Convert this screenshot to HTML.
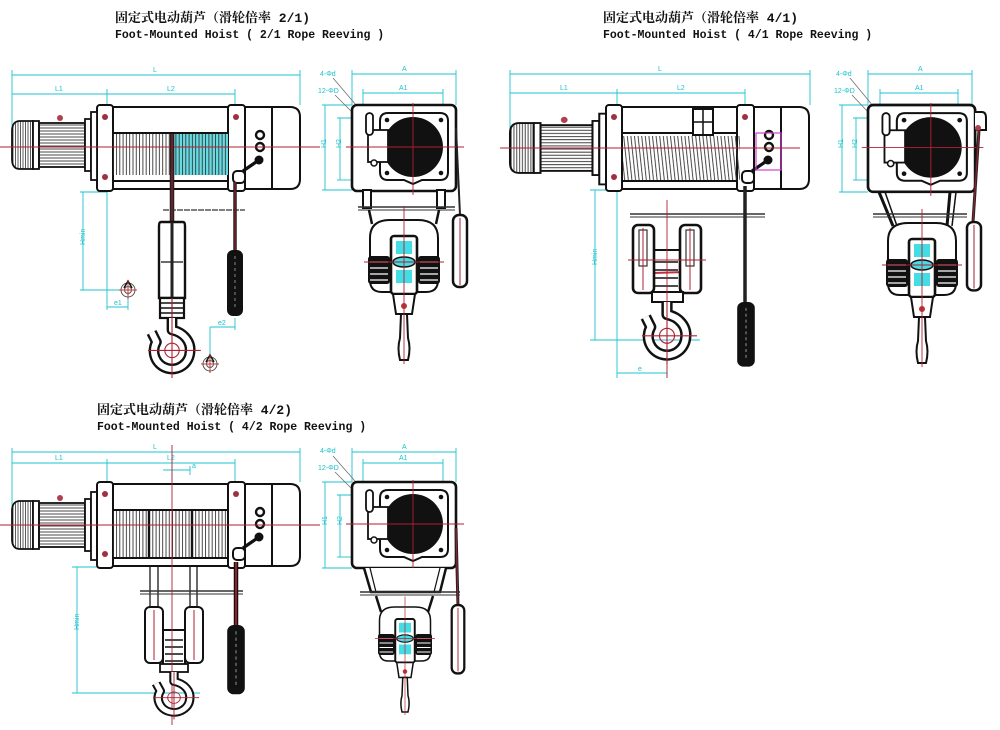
<!DOCTYPE html>
<html><head><meta charset="utf-8"><style>
html,body{margin:0;padding:0;background:#fff;}
body{width:1000px;height:730px;overflow:hidden;position:relative;}
svg{position:absolute;left:0;top:0;}
.t{font-family:"Liberation Mono","Noto Serif CJK SC",monospace;font-weight:bold;fill:#111;}
.d{font-family:"Liberation Sans",sans-serif;font-size:7px;fill:#1cc3cc;}
</style></head><body>
<svg width="1000" height="730" viewBox="0 0 1000 730" xmlns="http://www.w3.org/2000/svg">
<defs>
 <pattern id="vh" width="3.3" height="10" patternUnits="userSpaceOnUse"><line x1="1" y1="0" x2="1" y2="10" stroke="#333" stroke-width="0.9"/></pattern>
 <pattern id="dh" width="3.6" height="10" patternUnits="userSpaceOnUse" patternTransform="skewX(6)"><line x1="1" y1="0" x2="1" y2="10" stroke="#333" stroke-width="0.9"/></pattern>
 <pattern id="hh" width="10" height="3" patternUnits="userSpaceOnUse"><line x1="0" y1="1" x2="10" y2="1" stroke="#333" stroke-width="0.9"/></pattern>
 <pattern id="fin" width="2.5" height="10" patternUnits="userSpaceOnUse"><line x1="1" y1="0" x2="1" y2="10" stroke="#333" stroke-width="0.8"/></pattern>

 <g id="motor" stroke="#111" stroke-width="1.8">
  <path d="M8 -24 H21 V24 H8 Q0 24 0 14 V-14 Q0 -24 8 -24 Z" fill="url(#fin)"/>
  <rect x="21" y="-24" width="6" height="48" fill="#fff"/>
  <rect x="27" y="-22" width="46" height="44" fill="url(#hh)"/>
  <rect x="73" y="-26" width="6" height="52" fill="#fff"/>
  <rect x="79" y="-33" width="6" height="68" fill="#fff"/>
  <circle cx="48" cy="-27" r="3" fill="#b04050" stroke="none"/>
 </g>

 <g id="frame" stroke="#111" stroke-width="2">
  <rect x="16" y="2" width="115" height="82" fill="#fff"/>
  <path d="M148 2 H193 Q203 2 203 12 V74 Q203 84 193 84 H148 Z" fill="#fff"/>
  <line x1="175" y1="2" x2="175" y2="84"/>
  <rect x="0" y="0" width="16" height="86" rx="3" fill="#fff"/>
  <rect x="131" y="0" width="17" height="86" rx="3" fill="#fff"/>
  <line x1="16" y1="28" x2="131" y2="28"/>
  <line x1="16" y1="76" x2="131" y2="76"/>
  <circle cx="8" cy="12" r="3" fill="#a03040" stroke="none"/>
  <circle cx="8" cy="72" r="3" fill="#a03040" stroke="none"/>
  <circle cx="139" cy="12" r="3" fill="#a03040" stroke="none"/>
  <circle cx="163" cy="30" r="4" fill="none" stroke-width="2.4"/>
  <circle cx="163" cy="42" r="4" fill="none" stroke-width="2.4"/>
  <line x1="162" y1="55" x2="146" y2="66" stroke-width="3.2"/>
  <circle cx="162" cy="55" r="3.5" fill="#111"/>
  <rect x="136" y="66" width="12" height="12" rx="4" fill="#fff" stroke-width="2"/>
 </g>

 <g id="sbox">
  <rect x="0" y="0" width="104" height="86" rx="5" fill="#fff" stroke="#111" stroke-width="2.6"/>
  <path d="M36 8 H88 Q96 8 96 16 V67 Q96 75 88 75 H70 L61 79 L52 75 H36 Q28 75 28 67 V16 Q28 8 36 8 Z" fill="#fff" stroke="#111" stroke-width="2"/>
  <circle cx="61" cy="42" r="30" fill="#111"/>
  <circle cx="35" cy="15" r="2.3" fill="#111"/><circle cx="89" cy="15" r="2.3" fill="#111"/>
  <circle cx="35" cy="68" r="2.3" fill="#111"/><circle cx="89" cy="68" r="2.3" fill="#111"/>
  <rect x="16" y="25" width="20" height="32" fill="#fff" stroke="#111" stroke-width="1.8"/>
  <rect x="14" y="8" width="7" height="22" rx="3.5" fill="#fff" stroke="#111" stroke-width="1.8"/>
  <circle cx="22" cy="58" r="3" fill="#fff" stroke="#111" stroke-width="1.5"/>
  <line x1="-6" y1="42" x2="112" y2="42" stroke="#b02030" stroke-width="0.9"/>
  <line x1="61" y1="-2" x2="61" y2="90" stroke="#b02030" stroke-width="0.9"/>
 </g>

 <g id="sblock">
  <path d="M-34 18 Q-34 0 -14 0 H14 Q34 0 34 18 V60 Q34 72 22 72 H-22 Q-34 72 -34 60 Z" fill="#fff" stroke="#111" stroke-width="2"/>
  <rect x="-36" y="36" width="22" height="28" rx="3" fill="#111"/>
  <rect x="14" y="36" width="22" height="28" rx="3" fill="#111"/>
  <g stroke="#fff" stroke-width="1.3">
   <line x1="-34" y1="42" x2="-16" y2="42"/><line x1="-34" y1="48" x2="-16" y2="48"/><line x1="-34" y1="54" x2="-16" y2="54"/><line x1="-34" y1="60" x2="-16" y2="60"/>
   <line x1="16" y1="42" x2="34" y2="42"/><line x1="16" y1="48" x2="34" y2="48"/><line x1="16" y1="54" x2="34" y2="54"/><line x1="16" y1="60" x2="34" y2="60"/>
  </g>
  <rect x="-13" y="16" width="26" height="58" rx="3" fill="#fff" stroke="#111" stroke-width="2.6"/>
  <rect x="-8" y="21" width="16" height="13" fill="#44dde6"/>
  <rect x="-8" y="50" width="16" height="13" fill="#44dde6"/>
  <ellipse cx="0" cy="42" rx="11" ry="5" fill="#44dde6" stroke="#111" stroke-width="1.5"/>
  <path d="M-11 74 H11 L8 94 H-8 Z" fill="#fff" stroke="#111" stroke-width="2"/>
  <circle cx="0" cy="86" r="3" fill="#b33"/>
  <path d="M-3 94 H3 L4 118 Q7 128 4 140 H-4 Q-7 128 -4 118 Z" fill="#fff" stroke="#111" stroke-width="2"/>
  <line x1="0" y1="-14" x2="0" y2="144" stroke="#b02030" stroke-width="0.9"/>
  <line x1="-40" y1="42" x2="40" y2="42" stroke="#b02030" stroke-width="0.9"/>
 </g>

 <g id="hook">
  <path d="M0 0 V10 C10 12 16 20 15 28 A15 15 0 1 1 -13 20 L-17 12" fill="none" stroke="#111" stroke-width="9" stroke-linejoin="round"/>
  <path d="M0 0 V10 C10 12 16 20 15 28 A15 15 0 1 1 -13 20 L-17 12" fill="none" stroke="#fff" stroke-width="5" stroke-linejoin="round"/>
  <circle cx="0" cy="27" r="6" fill="none" stroke="#b02030" stroke-width="0.9"/>
  <line x1="0" y1="0" x2="0" y2="50" stroke="#b02030" stroke-width="0.9"/>
  <line x1="-20" y1="27" x2="24" y2="27" stroke="#b02030" stroke-width="0.9"/>
 </g>

 <g id="pendB">
  <rect x="-8" y="0" width="16" height="66" rx="6" fill="#111"/>
  <line x1="0" y1="6" x2="0" y2="60" stroke="#9aa" stroke-width="0.8" stroke-dasharray="3 3"/>
 </g>
 <g id="pendW">
  <rect x="-7" y="0" width="14" height="72" rx="6" fill="#fff" stroke="#111" stroke-width="2.5"/>
  <line x1="0" y1="3" x2="0" y2="70" stroke="#a02030" stroke-width="1"/>
 </g>

 <g id="sym" fill="none" stroke="#555" stroke-width="1">
  <circle cx="0" cy="0" r="7"/><circle cx="0" cy="0" r="3.5"/>
  <path d="M-4 -2 L0 -9 L4 -2" stroke="#111" stroke-width="1.5"/>
  <line x1="-9" y1="0" x2="9" y2="0" stroke="#c33"/><line x1="0" y1="-9" x2="0" y2="9" stroke="#c33"/>
 </g>
</defs>

<!-- TITLES -->
<text class="t" x="115" y="22" font-size="13">固定式电动葫芦（滑轮倍率 2/1)</text>
<text class="t" x="115" y="38" font-size="11.5">Foot-Mounted Hoist ( 2/1 Rope Reeving )</text>
<text class="t" x="603" y="22" font-size="13">固定式电动葫芦（滑轮倍率 4/1)</text>
<text class="t" x="603" y="38" font-size="11.5">Foot-Mounted Hoist ( 4/1 Rope Reeving )</text>
<text class="t" x="97" y="414" font-size="13">固定式电动葫芦（滑轮倍率 4/2)</text>
<text class="t" x="97" y="430" font-size="11.5">Foot-Mounted Hoist ( 4/2 Rope Reeving )</text>

<!-- ================= VIEW 1 FRONT ================= -->
<g stroke="#1cc3cc" stroke-width="0.9" fill="none">
 <line x1="12" y1="75" x2="300" y2="75"/><line x1="12" y1="70" x2="12" y2="145"/><line x1="300" y1="70" x2="300" y2="105"/>
 <line x1="12" y1="94" x2="235" y2="94"/><line x1="107" y1="89" x2="107" y2="120"/><line x1="235" y1="89" x2="235" y2="120"/>
 <line x1="83" y1="192" x2="83" y2="290"/><line x1="80" y1="192" x2="107" y2="192"/><line x1="80" y1="290" x2="125" y2="290"/>
 <line x1="107" y1="190" x2="107" y2="310"/><line x1="107" y1="307" x2="128" y2="307"/><line x1="128" y1="298" x2="128" y2="310"/>
 <line x1="210" y1="327" x2="210" y2="358"/><line x1="210" y1="327" x2="235" y2="327"/><line x1="235" y1="318" x2="235" y2="330"/>
</g>
<text class="d" x="153" y="72">L</text><text class="d" x="55" y="91">L1</text><text class="d" x="167" y="91">L2</text>
<text class="d" x="80" y="250" transform="rotate(-90 80 245)">Hmin</text>
<text class="d" x="114" y="305">e1</text><text class="d" x="218" y="325">e2</text>
<use href="#sym" x="128" y="290"/><use href="#sym" x="210" y="364"/>

<use href="#frame" x="97" y="105"/>
<rect x="170" y="134" width="58" height="41" fill="#66dde4"/>
<rect x="113" y="134" width="115" height="41" fill="url(#vh)"/>
<g transform="translate(12,145)"><use href="#motor"/></g>
<line x1="0" y1="147" x2="320" y2="147" stroke="#b02030" stroke-width="0.9"/>
<!-- rope -->
<line x1="172" y1="134" x2="172" y2="262" stroke="#222" stroke-width="4.5"/>
<line x1="172" y1="134" x2="172" y2="262" stroke="#a02030" stroke-width="1.2"/>
<line x1="163" y1="210" x2="245" y2="210" stroke="#333" stroke-width="1.3" stroke-dasharray="6 1"/>
<!-- hook block -->
<path d="M161 222 H183 Q185 222 185 226 V298 H159 V226 Q159 222 161 222 Z" fill="#fff" stroke="#111" stroke-width="2.4"/>
<line x1="161" y1="262" x2="183" y2="262" stroke="#111" stroke-width="1.2"/>
<line x1="172" y1="222" x2="172" y2="300" stroke="#222" stroke-width="3"/>
<rect x="160" y="298" width="24" height="20" fill="#fff" stroke="#111" stroke-width="2.2"/>
<g stroke="#111" stroke-width="1.6"><line x1="160" y1="303" x2="184" y2="303"/><line x1="160" y1="308" x2="184" y2="308"/><line x1="160" y1="313" x2="184" y2="313"/></g>
<line x1="172" y1="298" x2="172" y2="318" stroke="#a02030" stroke-width="1.2"/>
<g transform="translate(172,318) scale(1.2)"><use href="#hook"/></g>
<!-- pendant -->
<line x1="235" y1="182" x2="235" y2="252" stroke="#222" stroke-width="3.5"/>
<line x1="235" y1="182" x2="235" y2="252" stroke="#a02030" stroke-width="1"/>
<use href="#pendB" x="235" y="250"/>

<!-- ================= VIEW 1 SIDE ================= -->
<g stroke="#1cc3cc" stroke-width="0.9" fill="none">
 <line x1="352" y1="74" x2="456" y2="74"/><line x1="352" y1="70" x2="352" y2="105"/><line x1="456" y1="70" x2="456" y2="105"/>
 <line x1="363" y1="93" x2="443" y2="93"/><line x1="363" y1="89" x2="363" y2="113"/><line x1="443" y1="89" x2="443" y2="113"/>
 <line x1="325" y1="105" x2="325" y2="190"/><line x1="322" y1="105" x2="352" y2="105"/><line x1="322" y1="190" x2="352" y2="190"/>
 <line x1="340" y1="118" x2="340" y2="180"/><line x1="337" y1="118" x2="368" y2="118"/><line x1="337" y1="180" x2="352" y2="180"/>
 <line x1="333" y1="78" x2="362" y2="112" stroke="#666" stroke-width="0.7"/><line x1="335" y1="95" x2="352" y2="112" stroke="#666" stroke-width="0.7"/>
</g>
<text class="d" x="402" y="71">A</text><text class="d" x="399" y="90">A1</text>
<text class="d" x="320" y="76">4-Φd</text><text class="d" x="318" y="93">12-ΦD</text>
<text class="d" x="322" y="152" transform="rotate(-90 322 148)">H1</text>
<text class="d" x="337" y="152" transform="rotate(-90 337 148)">H2</text>
<use href="#sbox" x="352" y="105"/>
<rect x="363" y="190" width="8" height="18" fill="#fff" stroke="#111" stroke-width="2"/>
<rect x="437" y="190" width="8" height="18" fill="#fff" stroke="#111" stroke-width="2"/>
<line x1="358" y1="207" x2="455" y2="207" stroke="#333" stroke-width="1.4"/>
<line x1="358" y1="210" x2="455" y2="210" stroke="#333" stroke-width="1"/>
<line x1="369" y1="210" x2="372" y2="224" stroke="#111" stroke-width="2.5"/>
<line x1="439" y1="210" x2="436" y2="224" stroke="#111" stroke-width="2.5"/>
<use href="#sblock" x="404" y="220"/>
<line x1="456" y1="128" x2="460" y2="215" stroke="#222" stroke-width="2"/>
<use href="#pendW" x="460" y="215"/>

<!-- ================= VIEW 2 FRONT ================= -->
<g stroke="#1cc3cc" stroke-width="0.9" fill="none">
 <line x1="510" y1="74" x2="810" y2="74"/><line x1="510" y1="70" x2="510" y2="148"/><line x1="810" y1="70" x2="810" y2="105"/>
 <line x1="510" y1="93" x2="745" y2="93"/><line x1="617" y1="89" x2="617" y2="120"/><line x1="745" y1="89" x2="745" y2="120"/>
 <line x1="595" y1="190" x2="595" y2="340"/><line x1="590" y1="190" x2="617" y2="190"/><line x1="590" y1="340" x2="700" y2="340"/>
 <line x1="617" y1="190" x2="617" y2="378"/><line x1="617" y1="373" x2="667" y2="373"/><line x1="667" y1="365" x2="667" y2="378"/>
</g>
<text class="d" x="658" y="71">L</text><text class="d" x="560" y="90">L1</text><text class="d" x="677" y="90">L2</text>
<text class="d" x="592" y="270" transform="rotate(-90 592 265)">Hmin</text>
<text class="d" x="638" y="371">e</text>
<g transform="translate(510,148) scale(1.13,1.04)"><use href="#motor"/></g>
<use href="#frame" x="606" y="105"/>
<rect x="623" y="136" width="117" height="44" fill="url(#dh)"/>
<rect x="693" y="109" width="20" height="26" fill="#fff" stroke="#111" stroke-width="2"/>
<line x1="693" y1="122" x2="713" y2="122" stroke="#111" stroke-width="1.5"/><line x1="703" y1="109" x2="703" y2="135" stroke="#111" stroke-width="1.5"/>
<rect x="756" y="133" width="25" height="37" fill="none" stroke="#d040d0" stroke-width="1.2"/>
<line x1="500" y1="148" x2="800" y2="148" stroke="#b02030" stroke-width="0.9"/>
<line x1="630" y1="214" x2="765" y2="214" stroke="#333" stroke-width="1.4"/>
<line x1="630" y1="217" x2="765" y2="217" stroke="#333" stroke-width="1"/>
<!-- double sheave block -->
<rect x="653" y="250" width="27" height="42" fill="#fff" stroke="#111" stroke-width="2"/>
<g stroke="#111" stroke-width="1.6"><line x1="655" y1="262" x2="678" y2="262"/><line x1="655" y1="270" x2="678" y2="270"/><line x1="655" y1="278" x2="678" y2="278"/><line x1="655" y1="286" x2="678" y2="286"/></g>
<line x1="653" y1="273" x2="685" y2="272" stroke="#c03040" stroke-width="2"/>
<rect x="633" y="225" width="21" height="68" rx="5" fill="#fff" stroke="#111" stroke-width="2.6"/>
<rect x="680" y="225" width="21" height="68" rx="5" fill="#fff" stroke="#111" stroke-width="2.6"/>
<rect x="639" y="230" width="8" height="36" fill="#fff" stroke="#333" stroke-width="1.2"/>
<rect x="686" y="230" width="8" height="36" fill="#fff" stroke="#333" stroke-width="1.2"/>
<line x1="643" y1="228" x2="643" y2="290" stroke="#b02030" stroke-width="1"/>
<line x1="690" y1="228" x2="690" y2="290" stroke="#b02030" stroke-width="1"/>
<line x1="628" y1="260" x2="706" y2="260" stroke="#b02030" stroke-width="0.9"/>
<rect x="652" y="292" width="31" height="10" fill="#fff" stroke="#111" stroke-width="2"/>
<line x1="667" y1="200" x2="667" y2="378" stroke="#b02030" stroke-width="0.9"/>
<g transform="translate(667,302) scale(1.25)"><use href="#hook"/></g>
<line x1="745" y1="186" x2="745" y2="304" stroke="#222" stroke-width="3.5"/>
<g transform="translate(746,302) scale(1.1,0.98)"><use href="#pendB"/></g>

<!-- ================= VIEW 2 SIDE ================= -->
<g stroke="#1cc3cc" stroke-width="0.9" fill="none">
 <line x1="868" y1="74" x2="972" y2="74"/><line x1="868" y1="70" x2="868" y2="105"/><line x1="972" y1="70" x2="972" y2="105"/>
 <line x1="880" y1="93" x2="958" y2="93"/><line x1="880" y1="89" x2="880" y2="113"/><line x1="958" y1="89" x2="958" y2="113"/>
 <line x1="842" y1="105" x2="842" y2="192"/><line x1="839" y1="105" x2="868" y2="105"/><line x1="839" y1="192" x2="868" y2="192"/>
 <line x1="856" y1="118" x2="856" y2="180"/><line x1="853" y1="118" x2="884" y2="118"/><line x1="853" y1="180" x2="868" y2="180"/>
 <line x1="850" y1="78" x2="878" y2="112" stroke="#666" stroke-width="0.7"/><line x1="852" y1="95" x2="868" y2="112" stroke="#666" stroke-width="0.7"/>
</g>
<text class="d" x="918" y="71">A</text><text class="d" x="915" y="90">A1</text>
<text class="d" x="836" y="76">4-Φd</text><text class="d" x="834" y="93">12-ΦD</text>
<text class="d" x="839" y="152" transform="rotate(-90 839 148)">H1</text>
<text class="d" x="853" y="152" transform="rotate(-90 853 148)">H2</text>
<g transform="translate(868,105) scale(1.03,1.01)"><use href="#sbox"/></g>
<path d="M975 112 H982 Q986 112 986 118 V130 H975" fill="#fff" stroke="#111" stroke-width="2"/>
<circle cx="978" cy="128" r="3" fill="#b04050"/>
<line x1="879" y1="192" x2="893" y2="226" stroke="#111" stroke-width="3"/>
<line x1="885" y1="192" x2="897" y2="226" stroke="#111" stroke-width="1.5"/>
<line x1="950" y1="192" x2="947" y2="226" stroke="#111" stroke-width="3"/>
<line x1="956" y1="192" x2="952" y2="226" stroke="#111" stroke-width="1.5"/>
<line x1="873" y1="214" x2="967" y2="214" stroke="#333" stroke-width="1.4"/>
<line x1="873" y1="217" x2="967" y2="217" stroke="#333" stroke-width="1"/>
<use href="#sblock" x="922" y="223"/>
<line x1="979" y1="130" x2="973" y2="222" stroke="#222" stroke-width="3"/>
<line x1="979" y1="130" x2="973" y2="222" stroke="#a02030" stroke-width="1"/>
<g transform="translate(974,222) scale(1,0.95)"><use href="#pendW"/></g>

<!-- ================= VIEW 3 FRONT ================= -->
<g stroke="#1cc3cc" stroke-width="0.9" fill="none">
 <line x1="12" y1="452" x2="300" y2="452"/><line x1="12" y1="448" x2="12" y2="520"/><line x1="300" y1="448" x2="300" y2="482"/>
 <line x1="12" y1="463" x2="235" y2="463"/><line x1="107" y1="459" x2="107" y2="495"/><line x1="235" y1="459" x2="235" y2="495"/>
 <line x1="163" y1="470" x2="190" y2="470"/><line x1="172" y1="466" x2="172" y2="480"/><line x1="190" y1="466" x2="190" y2="475"/>
 <line x1="77" y1="567" x2="77" y2="693"/><line x1="72" y1="567" x2="97" y2="567"/><line x1="72" y1="693" x2="200" y2="693"/>
</g>
<text class="d" x="153" y="449">L</text><text class="d" x="55" y="460">L1</text><text class="d" x="167" y="460">L2</text><text class="d" x="192" y="468">a</text>
<text class="d" x="74" y="635" transform="rotate(-90 74 630)">Hmin</text>
<g transform="translate(12,525)"><use href="#motor"/></g>
<use href="#frame" x="97" y="482"/>
<rect x="113" y="511" width="115" height="46" fill="url(#vh)"/>
<line x1="149" y1="510" x2="149" y2="558" stroke="#111" stroke-width="2.4"/>
<line x1="192" y1="510" x2="192" y2="558" stroke="#111" stroke-width="2.4"/>
<line x1="0" y1="525" x2="320" y2="525" stroke="#b02030" stroke-width="0.9"/>
<g stroke="#444" stroke-width="1.6"><line x1="150" y1="567" x2="150" y2="612"/><line x1="158" y1="567" x2="158" y2="612"/><line x1="190" y1="567" x2="190" y2="612"/><line x1="197" y1="567" x2="197" y2="612"/></g>
<line x1="140" y1="591" x2="243" y2="591" stroke="#333" stroke-width="1.4"/>
<line x1="140" y1="594" x2="243" y2="594" stroke="#333" stroke-width="1"/>
<rect x="163" y="630" width="22" height="37" fill="#fff" stroke="#111" stroke-width="2"/>
<g stroke="#111" stroke-width="1.5"><line x1="165" y1="640" x2="183" y2="640"/><line x1="165" y1="647" x2="183" y2="647"/><line x1="165" y1="654" x2="183" y2="654"/><line x1="165" y1="661" x2="183" y2="661"/></g>
<rect x="145" y="607" width="18" height="56" rx="5" fill="#fff" stroke="#111" stroke-width="2"/>
<rect x="185" y="607" width="18" height="56" rx="5" fill="#fff" stroke="#111" stroke-width="2"/>
<line x1="154" y1="610" x2="154" y2="660" stroke="#b02030" stroke-width="1"/>
<line x1="194" y1="610" x2="194" y2="660" stroke="#b02030" stroke-width="1"/>
<rect x="160" y="664" width="28" height="8" fill="#fff" stroke="#111" stroke-width="1.8"/>
<line x1="172" y1="445" x2="172" y2="725" stroke="#b02030" stroke-width="0.9"/>
<g transform="translate(174,672) scale(1.05,0.95)"><use href="#hook"/></g>
<line x1="236" y1="562" x2="236" y2="627" stroke="#111" stroke-width="4.5"/>
<line x1="236" y1="562" x2="236" y2="627" stroke="#a02030" stroke-width="1.8"/>
<g transform="translate(236,625) scale(1.1,1.05)"><use href="#pendB"/></g>

<!-- ================= VIEW 3 SIDE ================= -->
<g stroke="#1cc3cc" stroke-width="0.9" fill="none">
 <line x1="352" y1="452" x2="456" y2="452"/><line x1="352" y1="448" x2="352" y2="482"/><line x1="456" y1="448" x2="456" y2="482"/>
 <line x1="363" y1="463" x2="443" y2="463"/><line x1="363" y1="459" x2="363" y2="490"/><line x1="443" y1="459" x2="443" y2="490"/>
 <line x1="325" y1="482" x2="325" y2="568"/><line x1="322" y1="482" x2="352" y2="482"/><line x1="322" y1="568" x2="352" y2="568"/>
 <line x1="340" y1="495" x2="340" y2="557"/><line x1="337" y1="495" x2="368" y2="495"/><line x1="337" y1="557" x2="352" y2="557"/>
 <line x1="333" y1="456" x2="362" y2="489" stroke="#666" stroke-width="0.7"/><line x1="335" y1="472" x2="352" y2="489" stroke="#666" stroke-width="0.7"/>
</g>
<text class="d" x="402" y="449">A</text><text class="d" x="399" y="460">A1</text>
<text class="d" x="320" y="453">4-Φd</text><text class="d" x="318" y="470">12-ΦD</text>
<text class="d" x="322" y="530" transform="rotate(-90 322 525)">H1</text>
<text class="d" x="337" y="530" transform="rotate(-90 337 525)">H2</text>
<use href="#sbox" x="352" y="482"/>
<path d="M364 568 L371 592 H440 L446 568" fill="#fff" stroke="#111" stroke-width="2.5"/>
<line x1="370" y1="568" x2="376" y2="592" stroke="#111" stroke-width="1.2"/>
<line x1="440" y1="568" x2="434" y2="592" stroke="#111" stroke-width="1.2"/>
<line x1="360" y1="592" x2="460" y2="592" stroke="#333" stroke-width="1.4"/>
<line x1="360" y1="595" x2="460" y2="595" stroke="#333" stroke-width="1"/>
<line x1="376" y1="596" x2="381" y2="612" stroke="#111" stroke-width="2.5"/>
<line x1="433" y1="596" x2="428" y2="612" stroke="#111" stroke-width="2.5"/>
<g transform="translate(405,607) scale(0.75)"><use href="#sblock"/></g>
<line x1="456" y1="528" x2="458" y2="607" stroke="#222" stroke-width="3"/>
<line x1="456" y1="528" x2="458" y2="607" stroke="#a02030" stroke-width="1"/>
<g transform="translate(458,605) scale(0.9,0.95)"><use href="#pendW"/></g>
</svg>
</body></html>
